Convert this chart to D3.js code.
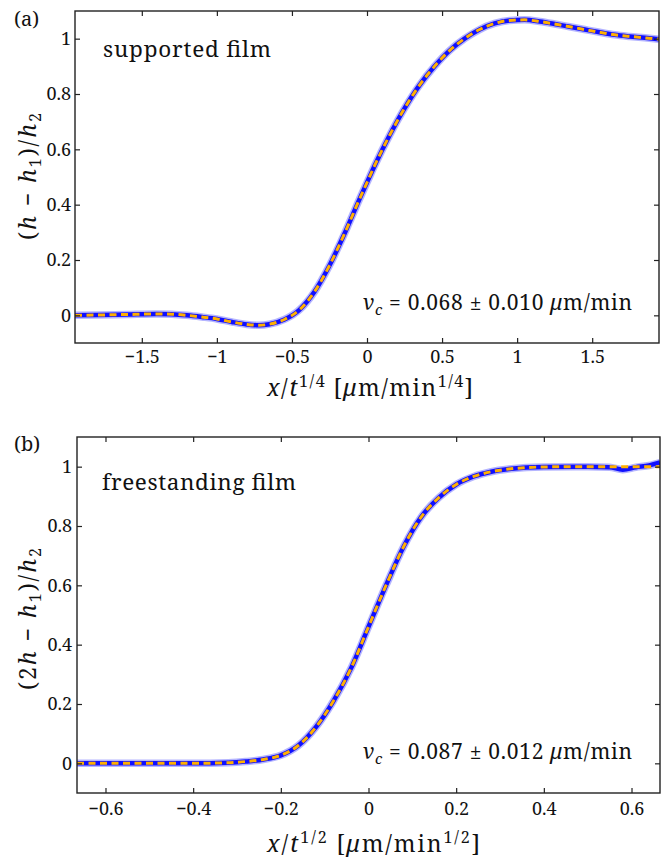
<!DOCTYPE html>
<html><head><meta charset="utf-8">
<script src="https://cdn.jsdelivr.net/npm/d3@7"></script>
<style>
html,body{margin:0;padding:0;background:#fff;}
svg{display:block;}
</style></head>
<body>
<svg id="chart" width="668" height="865"></svg>
<script>
// ---------- Data: panel (a) supported film ----------
const topX = [-1.945,-1.8,-1.6,-1.4,-1.3,-1.2,-1.1,-1.0,-0.9,-0.8,-0.72,-0.65,-0.55,-0.45,-0.35,-0.25,-0.15,-0.05,0,0.05,0.15,0.25,0.35,0.45,0.55,0.65,0.75,0.85,0.95,1.05,1.15,1.25,1.35,1.45,1.55,1.65,1.75,1.85,1.945];
const topData = [0,0.001,0.003,0.005,0.004,0.0,-0.006,-0.013,-0.024,-0.033,-0.036,-0.032,-0.015,0.02,0.085,0.18,0.295,0.42,0.48,0.54,0.65,0.748,0.832,0.9,0.957,1.0,1.033,1.055,1.066,1.068,1.062,1.053,1.043,1.033,1.023,1.014,1.008,1.003,0.998];
const topModel = [0,0.001,0.003,0.005,0.004,0.0,-0.006,-0.013,-0.024,-0.033,-0.036,-0.032,-0.015,0.02,0.085,0.18,0.295,0.42,0.48,0.54,0.65,0.748,0.832,0.9,0.957,1.0,1.033,1.055,1.066,1.068,1.062,1.053,1.043,1.033,1.023,1.014,1.008,1.003,0.998];
const topXTicks = [-1.5,-1,-0.5,0,0.5,1,1.5];
const topYTicks = [0,0.2,0.4,0.6,0.8,1];

// ---------- Data: panel (b) freestanding film ----------
const botX = [-0.665,-0.5,-0.4,-0.32,-0.28,-0.24,-0.2,-0.16,-0.12,-0.08,-0.04,0,0.04,0.08,0.12,0.16,0.2,0.24,0.28,0.32,0.36,0.4,0.5,0.55,0.58,0.61,0.64,0.665];
const botData = [0,0,0,0.002,0.006,0.013,0.027,0.06,0.122,0.21,0.32,0.46,0.6,0.73,0.83,0.895,0.94,0.967,0.983,0.992,0.997,0.999,1.0,0.998,0.99,0.998,1.004,1.014];
const botModel = [0,0,0,0.002,0.006,0.013,0.027,0.06,0.122,0.21,0.32,0.46,0.6,0.73,0.83,0.895,0.94,0.967,0.983,0.992,0.997,0.999,1.0,1.0,1.0,1.0,1.0,1.0];
const botXTicks = [-0.6,-0.4,-0.2,0,0.2,0.4,0.6];
const botYTicks = [0,0.2,0.4,0.6,0.8,1];

const FONT = "Noto Serif";
const svg = d3.select("#chart");
const fmt = d => (d < 0 ? "\u2212" + Math.abs(d) : String(d));

function rich(sel, parts, size) {
  // parts: [text, style]; style may contain "i" (italic), "sub", "sup"
  let pending = 0;
  parts.forEach(([t, s]) => {
    s = s || "";
    const ts = sel.append("tspan").text(t).attr("font-family", FONT);
    let dy = pending; pending = 0;
    if (s.includes("i")) ts.attr("font-style", "italic");
    if (s.includes("sub")) { ts.attr("font-size", size * 0.7); dy += size * 0.22; pending = -size * 0.22; }
    if (s.includes("sup")) { ts.attr("font-size", size * 0.7); dy += -size * 0.4; pending = size * 0.4; }
    if (dy !== 0) ts.attr("dy", dy);
  });
}

function panel(cfg) {
  const {left, right, top, bottom, xDom, yDom, xs, yData, yModel, xTicks, yTicks, padX, padY, id} = cfg;
  const x = d3.scaleLinear().domain(xDom).range([left, right]);
  const y = d3.scaleLinear().domain(yDom).range([bottom, top]);
  const g = svg.append("g");

  g.append("clipPath").attr("id", id).append("rect")
    .attr("x", left).attr("y", top).attr("width", right - left).attr("height", bottom - top);

  const pts = (ys) => xs.map((v, i) => [v, ys[i]]);
  const line = d3.line().x(d => x(d[0])).y(d => y(d[1])).curve(d3.curveMonotoneX);
  const cg = g.append("g").attr("clip-path", `url(#${id})`);
  cg.append("path").attr("d", line(pts(yData))).attr("fill", "none")
    .attr("stroke", "#5a5aff").attr("stroke-opacity", 0.45).attr("stroke-width", 7.5)
    .attr("stroke-linejoin", "round");
  cg.append("path").attr("d", line(pts(yData))).attr("fill", "none")
    .attr("stroke", "#1010ff").attr("stroke-width", 4.5).attr("stroke-linejoin", "round");
  cg.append("path").attr("d", line(pts(yModel))).attr("fill", "none")
    .attr("stroke", "#ffb000").attr("stroke-width", 3).attr("stroke-dasharray", "7,4.5");

  const tickStyle = s => {
    s.attr("font-family", FONT);
    s.selectAll(".domain").remove();
    s.selectAll(".tick line").attr("stroke", "#222").attr("stroke-width", 1.2);
    s.selectAll(".tick text").attr("fill", "#111").attr("font-size", 18).attr("font-family", FONT);
  };
  g.append("g").attr("transform", `translate(0,${bottom})`)
    .call(d3.axisBottom(x).tickValues(xTicks).tickFormat(fmt).tickSizeInner(-5).tickSizeOuter(0).tickPadding(padX))
    .call(tickStyle);
  g.append("g").attr("transform", `translate(0,${top})`)
    .call(d3.axisTop(x).tickValues(xTicks).tickFormat("").tickSizeInner(-5).tickSizeOuter(0))
    .call(tickStyle);
  g.append("g").attr("transform", `translate(${left},0)`)
    .call(d3.axisLeft(y).tickValues(yTicks).tickFormat(fmt).tickSizeInner(-5).tickSizeOuter(0).tickPadding(padY))
    .call(tickStyle);
  g.append("g").attr("transform", `translate(${right},0)`)
    .call(d3.axisRight(y).tickValues(yTicks).tickFormat("").tickSizeInner(-5).tickSizeOuter(0))
    .call(tickStyle);

  g.append("rect").attr("x", left).attr("y", top).attr("width", right - left).attr("height", bottom - top)
    .attr("fill", "none").attr("stroke", "#222").attr("stroke-width", 1.4);
  return g;
}

// Panel (a)
panel({id: "clipA", left: 75, right: 659, top: 11, bottom: 343,
  xDom: [-1.945, 1.945], yDom: [-0.1, 1.1], xs: topX, yData: topData, yModel: topModel,
  xTicks: topXTicks, yTicks: topYTicks, padX: 7.5, padY: 4});
// Panel (b)
panel({id: "clipB", left: 77, right: 660, top: 437, bottom: 793,
  xDom: [-0.665, 0.665], yDom: [-0.1, 1.1], xs: botX, yData: botData, yModel: botModel,
  xTicks: botXTicks, yTicks: botYTicks, padX: 9, padY: 5});

const T = (x, y, size) => svg.append("text").attr("x", x).attr("y", y)
  .attr("font-size", size).attr("fill", "#111").attr("font-family", FONT);

// Panel labels
T(14, 26, 20).text("(a)");
T(14, 451, 20).text("(b)");

// Annotations
T(103, 57, 22.5).attr("textLength", 168).attr("lengthAdjust", "spacing").text("supported film");
T(102, 490, 22.5).attr("textLength", 194).attr("lengthAdjust", "spacing").text("freestanding film");

rich(T(363, 310, 21).attr("textLength", 269).attr("lengthAdjust", "spacing"),
  [["v","i"],["c","isub"],[" = 0.068 \u00b1 0.010 "],["\u03bc","i"],["m/min"]], 21);
rich(T(363, 759, 21).attr("textLength", 269).attr("lengthAdjust", "spacing"),
  [["v","i"],["c","isub"],[" = 0.087 \u00b1 0.012 "],["\u03bc","i"],["m/min"]], 21);

// X axis labels
rich(T(267, 396, 23).attr("textLength", 206).attr("lengthAdjust", "spacing"),
  [["x","i"],["/"],["t","i"],["1/4","sup"],[" ["],["\u03bc","i"],["m/min"],["1/4","sup"],["]"]], 23);
rich(T(267, 852, 23).attr("textLength", 213).attr("lengthAdjust", "spacing"),
  [["x","i"],["/"],["t","i"],["1/2","sup"],[" ["],["\u03bc","i"],["m/min"],["1/2","sup"],["]"]], 23);

// Y axis labels
rich(T(0, 0, 23).attr("transform", "translate(36,240) rotate(-90)").attr("textLength", 127).attr("lengthAdjust", "spacing"),
  [["("],["h","i"],[" \u2212 "],["h","i"],["1","sub"],[")/"],["h","i"],["2","sub"]], 23);
rich(T(0, 0, 23).attr("transform", "translate(36,690) rotate(-90)").attr("textLength", 142).attr("lengthAdjust", "spacing"),
  [["(2"],["h","i"],[" \u2212 "],["h","i"],["1","sub"],[")/"],["h","i"],["2","sub"]], 23);
</script>
</body></html>
